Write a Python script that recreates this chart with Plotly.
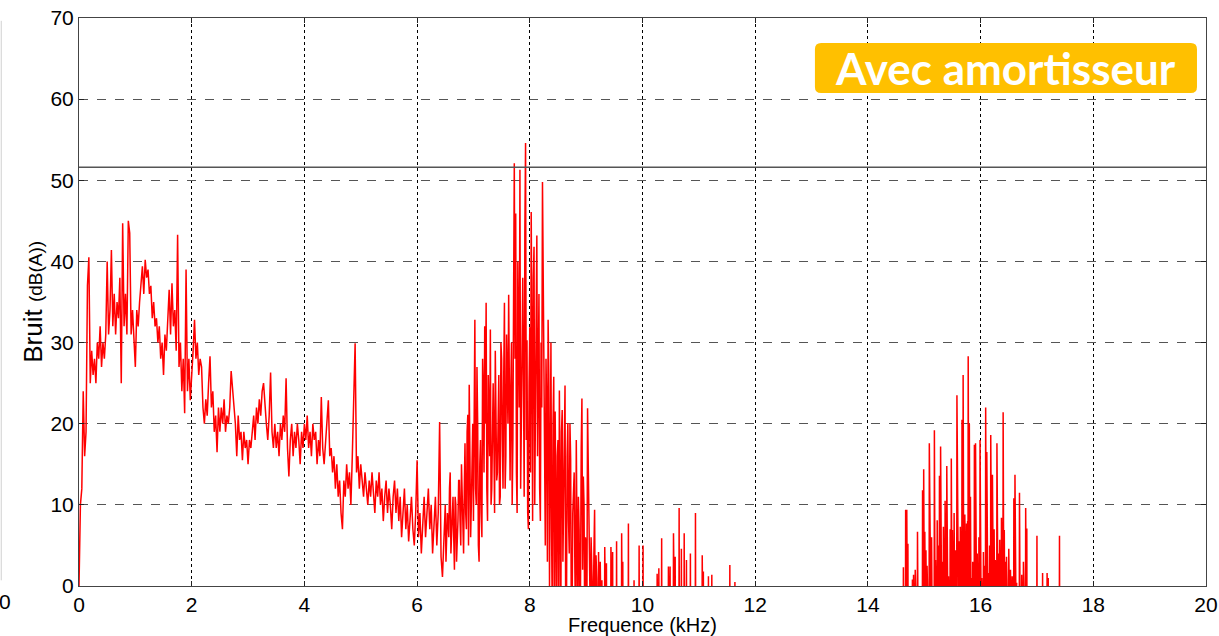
import numpy as np
import plotly.graph_objects as go

# ---------------- data ----------------
DENSE_STEP_KHZ = 0.025  # spectrum bin spacing for the dense part (0 - 9.2 kHz)

dense_db = [
    # 0.0 - 0.475
    0, 10, 12, 24, 16, 19, 37, 40.5, 25, 29, 26, 28, 25, 30, 28, 32, 27, 30, 28, 31,
    # 0.5 - 0.975
    40, 31, 34, 41.4, 32, 36, 31, 35, 33, 38, 25, 44.7, 32, 36, 31, 45, 43.5, 31, 34, 30,
    # 1.0 - 1.475
    27, 34, 32, 35, 37, 39.4, 36, 40.2, 38, 39, 36, 37, 33, 35, 32, 33, 30, 32, 28, 30,
    # 1.5 - 1.975
    26, 31, 29, 34, 36.5, 31, 37.3, 32, 34, 29, 43.3, 27, 30, 24, 28, 21.3, 39, 24, 28, 22.9,
    # 2.0 - 2.475
    27, 29, 32.8, 28, 30, 26, 28, 27, 22, 20, 23, 21, 25, 28.3, 22, 24, 19, 21, 16.5, 22,
    # 2.5 - 2.975
    19, 22, 20, 23, 19, 21, 20, 22, 26.5, 24, 22, 20, 16, 21, 18, 19, 15.5, 19, 17, 18,
    # 3.0 - 3.475
    15, 18, 17, 19, 21, 18, 22, 20, 23, 21, 24, 25, 22, 20, 18, 21, 26.3, 19, 17, 20,
    # 3.5 - 3.975
    17, 19, 16, 20, 18, 21, 19, 25.6, 17, 13.5, 18, 20, 16, 19, 17, 20, 18, 15, 19, 17,
    # 4.0 - 4.475
    20, 18, 21, 17, 19, 16, 20, 18, 19, 15, 18, 16, 23.3, 17, 15, 18, 21, 22.9, 16, 17,
    # 4.5 - 4.975
    14, 16, 12, 15, 11, 13, 9, 7, 13, 11, 15, 12, 14, 10, 16, 24.5, 29.9, 14, 16, 12,
    # 5.0 - 5.475
    15, 13, 11, 14, 12, 10, 13, 11, 14, 12, 9, 13, 11, 14, 10, 12, 8, 11, 13, 9,
    # 5.5 - 5.975
    12, 10, 7, 11, 13, 9, 12, 8, 11, 6, 10, 12, 7, 10, 5.5, 9, 11, 7, 5, 9,
    # 6.0 - 6.475
    15.5, 6, 9, 4, 8, 11, 6, 9, 12, 7, 10, 4, 8, 11, 5, 9, 20.2, 3.6, 1.1, 7,
    # 6.5 - 6.975
    10, 5, 8, 12, 4, 9, 6, 11, 3, 8, 13, 5, 10, 4, 17.6, 7, 21.1, 24.8, 6, 14,
    # 7.0 - 7.475
    8, 32.8, 10, 20, 3, 18, 6, 24, 32, 34.9, 8, 22, 31.6, 12, 25, 9, 22.1, 14, 26, 11,
    # 7.5 - 7.975
    28, 12, 34.9, 16, 27, 35.9, 13, 30, 18, 52.1, 45.9, 9, 30.7, 51.3, 20, 38, 11, 54.6, 30.3, 7,
    # 8.0 - 8.475
    31.9, 46.1, 8, 41.8, 20, 43.2, 24.1, 12, 30, 49.8, 25.8, 5, 22, 32.8, 0, 30, -5, 25.8, 21.5, -5,
    # 8.5 - 8.975
    18, 24.1, -5, 21.7, 10, 24.7, -5, 20.1, 4, 15.7, -5, 12, 2, 18, -5, 7, 0, 23.1, 13.5, -5,
    # 9.0 - 9.2
    5, 21.9, 9, -5, 3, -5, 9.4, 3.8, -5,
]

# intermediate bins (half a step later) in the busy 6.5 - 9.2 kHz band
MID_START_KHZ = 6.5125
mid_db = [
    # 6.5125 - 6.9875
    3, 9, 6, 14, 7, 11, 2, 10, 5, 13, 8, 15, 4, 12, 9, 19, 5, 16, 10, 20,
    # 7.0125 - 7.4875
    22, 12, 27, 5, 15, 9, 28, 14, 20, 12, 26, 16, 10, 24, 18, 29, 13, 21, 10, 30,
    # 7.5125 - 7.9875
    18, 26, 12, 31, 20, 15, 24, 10, 36, 28, 14, 40, 22, 12, 34, 26, 44, 18, 9, 25,
    # 8.0125 - 8.4875
    14, 30, 38, 10, 28, 16, 36, 8, 22, 40, 12, 28, 3, 26, 14, 6, 20, -5, 10, 16,
    # 8.5125 - 8.9875
    -5, 12, 19, 3, 22, -5, 16, 8, 20, -5, 9, 14, -5, 4, 11, -5, 17, 2, 10, 6,
    # 9.0125 - 9.1875
    -5, 15, 2, 6, -5, 4, -5, 1,
]

# isolated spectral lines above the noise floor (kHz, dB(A))
spike_khz = [
    9.22, 9.25, 9.28, 9.33, 9.36, 9.44, 9.47, 9.54, 9.63, 9.65, 9.75, 9.85, 9.94,
    10.01, 10.26, 10.29, 10.34, 10.46, 10.49, 10.55, 10.58, 10.65, 10.69, 10.74,
    10.78, 10.85, 10.94, 11.06, 11.08, 11.17, 11.23, 11.55, 11.64,
    14.63, 14.67, 14.69, 14.71, 14.79, 14.81, 14.84, 14.88, 14.89, 14.97, 14.99,
    15.01, 15.03, 15.05, 15.09, 15.10, 15.13, 15.14, 15.18, 15.20, 15.23, 15.25,
    15.27, 15.29, 15.32, 15.34, 15.37, 15.40, 15.43, 15.46, 15.48, 15.50, 15.53,
    15.55, 15.58, 15.59, 15.62, 15.64, 15.67, 15.69, 15.71, 15.72, 15.75, 15.77,
    15.78, 15.80, 15.82, 15.84, 15.86, 15.89, 15.91, 15.94, 15.97, 15.99, 16.02,
    16.05, 16.07, 16.09, 16.11, 16.14, 16.16, 16.18, 16.21, 16.24, 16.26, 16.29,
    16.30, 16.32, 16.34, 16.37, 16.40, 16.42, 16.44, 16.46, 16.50, 16.53, 16.56,
    16.59, 16.61, 16.64, 16.69, 16.70, 16.73, 16.76, 16.80, 16.82, 17.00, 17.10,
    17.18, 17.20, 17.40,
]
spike_db = [
    4.2, 3.0, 0.7, 4.8, 2.8, 4.8, 4.2, 5.5, 6.5, 3.0, 7.7, 0.7, 5.0,
    5.0, 1.5, 2.2, 5.9, 2.4, 2.4, 6.5, 3.6, 9.6, 4.6, 6.5,
    3.2, 4.0, 9.0, 3.8, 1.8, 1.2, 1.4, 2.6, 0.5,
    2.3, 9.4, 9.4, 5.2, 0.8, 1.4, 2.0, 6.7, 3.2, 11.8, 14.4,
    6.7, 4.4, 2.5, 17.6, 5.9, 6.0, 4.0, 19.2, 3.2, 8.1, 5.0,
    13.6, 17.2, 3.0, 7.3, 10.5, 14.8, 1.2, 7.0, 15.7, 6.9, 9.0,
    4.4, 23.5, 22.1, 5.5, 7.3, 20.5, 26.0, 3.0, 8.8, 7.7, 8.0,
    28.3, 20.0, 11.0, 1.0, 3.0, 17.4, 17.6, 4.0, 6.0, 18.0, 1.0,
    4.2, 2.5, 22.0, 16.5, 1.6, 5.0, 18.6, 13.7, 7.0, 3.2, 17.6,
    15.7, 4.0, 5.7, 8.4, 21.4, 6.9, 3.0, 3.6, 4.6, 2.0, 1.2,
    10.8, 13.7, 0.4, 11.5, 2.0, 1.4, 3.0, 9.6, 7.1, 6.2, 1.6,
    1.6, 1.0, 6.2,
]

NOISE_FLOOR_DB = -10     # level between isolated lines (below the visible range)
THRESHOLD_DB = 51.6      # reference limit line

x_ticks = list(range(0, 21, 2))
y_ticks = list(range(0, 71, 10))

# ---------------- build trace ----------------
dense_khz = np.arange(len(dense_db)) * DENSE_STEP_KHZ
mid_khz = MID_START_KHZ + np.arange(len(mid_db)) * DENSE_STEP_KHZ
all_khz = np.concatenate([dense_khz, mid_khz])
all_db = np.concatenate([np.array(dense_db, float), np.array(mid_db, float)])
order = np.argsort(all_khz, kind="stable")
xs = list(all_khz[order])
ys = list(all_db[order])

LINE_HALF_WIDTH = 0.005
for f, v in sorted(zip(spike_khz, spike_db)):
    xs += [f - LINE_HALF_WIDTH, f, f + LINE_HALF_WIDTH]
    ys += [NOISE_FLOOR_DB, v, NOISE_FLOOR_DB]

FONT = "Liberation Sans, Arial, sans-serif"

fig = go.Figure()
fig.add_trace(go.Scatter(x=xs, y=ys, mode="lines",
                         line=dict(color="#ff0000", width=1.5),
                         hoverinfo="skip", showlegend=False))

axis_common = dict(
    showline=True, linecolor="#444444", linewidth=1, mirror="ticks",
    ticks="inside", ticklen=5, tickcolor="#222222", tickwidth=1,
    showgrid=True, gridwidth=1, zeroline=False, automargin=False,
    tickfont=dict(family=FONT, size=21, color="#000000"),
)

fig.update_layout(
    width=1219, height=636,
    margin=dict(l=79, r=13, t=18, b=50),
    paper_bgcolor="white", plot_bgcolor="white",
    font=dict(family=FONT, color="#000000"),
    xaxis=dict(range=[0, 20], tickvals=x_ticks, gridcolor="#000000", griddash="dot",
               title=dict(text="Frequence (kHz)", font=dict(family=FONT, size=20), standoff=4),
               **axis_common),
    yaxis=dict(range=[0, 70], tickvals=y_ticks, gridcolor="#555555", griddash="dash",
               **axis_common),
)

# threshold line
fig.add_shape(type="line", xref="paper", x0=0, x1=1, yref="y", y0=THRESHOLD_DB, y1=THRESHOLD_DB,
              line=dict(color="#555555", width=1.5))

# y-axis title
fig.add_annotation(xref="paper", yref="paper", x=-0.041, y=0.5, xanchor="center", yanchor="middle",
                   textangle=-90, showarrow=False,
                   text="Bruit <span style='font-size:19px'>(dB(A))</span>",
                   font=dict(family=FONT, size=26, color="#000000"))

# stray "0" and faint edge line at far left
fig.add_annotation(xref="paper", yref="paper", x=-0.0657, y=-0.027, xanchor="center", yanchor="middle",
                   showarrow=False, text="0", font=dict(family=FONT, size=21, color="#000000"))
fig.add_shape(type="line", xref="paper", yref="paper", x0=-0.069, x1=-0.069, y0=0.01, y1=0.995,
              line=dict(color="#d0d0d0", width=1))

# rounded orange label box
x0, x1, y0, y1 = 13.06, 19.84, 60.76, 66.92
rx, ry = 0.11, 0.75
path = (f"M {x0+rx},{y0} L {x1-rx},{y0} Q {x1},{y0} {x1},{y0+ry} L {x1},{y1-ry} "
        f"Q {x1},{y1} {x1-rx},{y1} L {x0+rx},{y1} Q {x0},{y1} {x0},{y1-ry} "
        f"L {x0},{y0+ry} Q {x0},{y0} {x0+rx},{y0} Z")
fig.add_shape(type="path", path=path, xref="x", yref="y", fillcolor="#ffc000",
              line=dict(width=0), layer="above")
fig.add_annotation(x=(x0 + x1) / 2, y=(y0 + y1) / 2, xref="x", yref="y", showarrow=False,
                   text="<b>Avec amortisseur</b>",
                   font=dict(family="Lato, Open Sans, sans-serif", size=44, color="#ffffff"))

# remove the default page margin so the figure sits at the window's top-left corner
fig.write_html("out.html", config={"displayModeBar": False},
               post_script="document.body.style.margin='0px';document.body.style.overflow='hidden';")
